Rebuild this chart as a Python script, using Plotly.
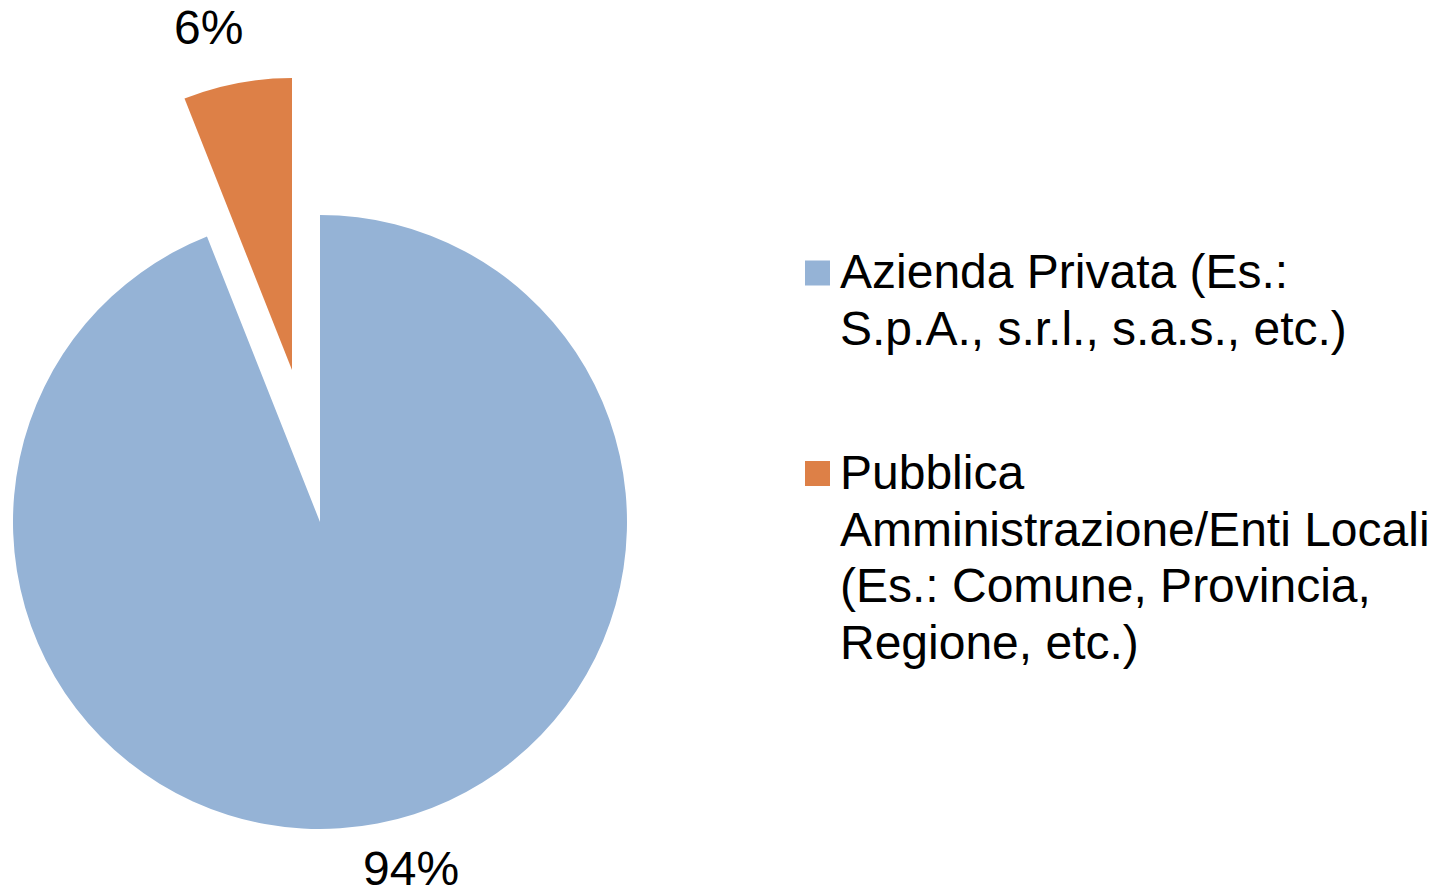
import plotly.graph_objects as go

# Survey answers: type of organisation
categories = [
    "Azienda Privata (Es.:<br>S.p.A., s.r.l., s.a.s., etc.)",
    "Pubblica<br>Amministrazione/Enti Locali<br>(Es.: Comune, Provincia,<br>Regione, etc.)",
]
shares = [94, 6]
colors = ["#95B3D6", "#DD8047"]

W, H = 1447, 889
FONT = "Arial, Liberation Sans, sans-serif"
CLEAR = "rgba(0,0,0,0)"


def fx(px):
    return px / W


def fy(py):
    return 1 - py / H


plain_labels = [c.replace("<br>", " ") for c in categories]

fig = go.Figure()

# Main pie: the large slice in place, the small slice left empty
fig.add_trace(go.Pie(
    labels=plain_labels,
    values=shares,
    sort=False,
    direction="clockwise",
    rotation=0,
    marker=dict(colors=[colors[0], CLEAR], line=dict(width=0)),
    textinfo="none",
    hoverinfo="label+percent",
    showlegend=False,
    domain=dict(x=[fx(13), fx(627)], y=[fy(829), fy(215)]),
))

# Exploded slice drawn on its own, shifted up and to the left
fig.add_trace(go.Pie(
    labels=plain_labels,
    values=shares,
    sort=False,
    direction="clockwise",
    rotation=0,
    marker=dict(colors=[CLEAR, colors[1]], line=dict(width=0)),
    textinfo="none",
    hoverinfo="label+percent",
    showlegend=False,
    domain=dict(x=[fx(0), fx(584)], y=[fy(662), fy(78)]),
))

annotations = []

# Percentage labels
pct_pos = [(411, 868), (208, 27.5)]
for v, (px, py) in zip(shares, pct_pos):
    annotations.append(dict(
        text=f"{v}%", x=fx(px), y=fy(py), xref="paper", yref="paper",
        xanchor="center", yanchor="middle", showarrow=False,
        font=dict(family=FONT, size=48, color="black"),
    ))

# Legend: colour squares with wrapped labels
shapes = []
LINE_STEP = 56.5
item_tops = [272, 472.5]
for cat, col, y0 in zip(categories, colors, item_tops):
    shapes.append(dict(
        type="rect", xref="paper", yref="paper",
        x0=fx(805), x1=fx(830), y0=fy(y0 - 11.5), y1=fy(y0 + 13.5),
        fillcolor=col, line=dict(width=0),
    ))
    for i, line in enumerate(cat.split("<br>")):
        annotations.append(dict(
            text=line, x=fx(840), y=fy(y0 + i * LINE_STEP),
            xref="paper", yref="paper", xanchor="left", yanchor="middle",
            showarrow=False, borderpad=0, borderwidth=0,
            font=dict(family=FONT, size=48, color="black"),
        ))

fig.update_layout(
    width=W, height=H,
    margin=dict(l=0, r=0, t=0, b=0),
    paper_bgcolor="white", plot_bgcolor="white",
    annotations=annotations, shapes=shapes,
    showlegend=False,
)

fig.write_html("out.html")
